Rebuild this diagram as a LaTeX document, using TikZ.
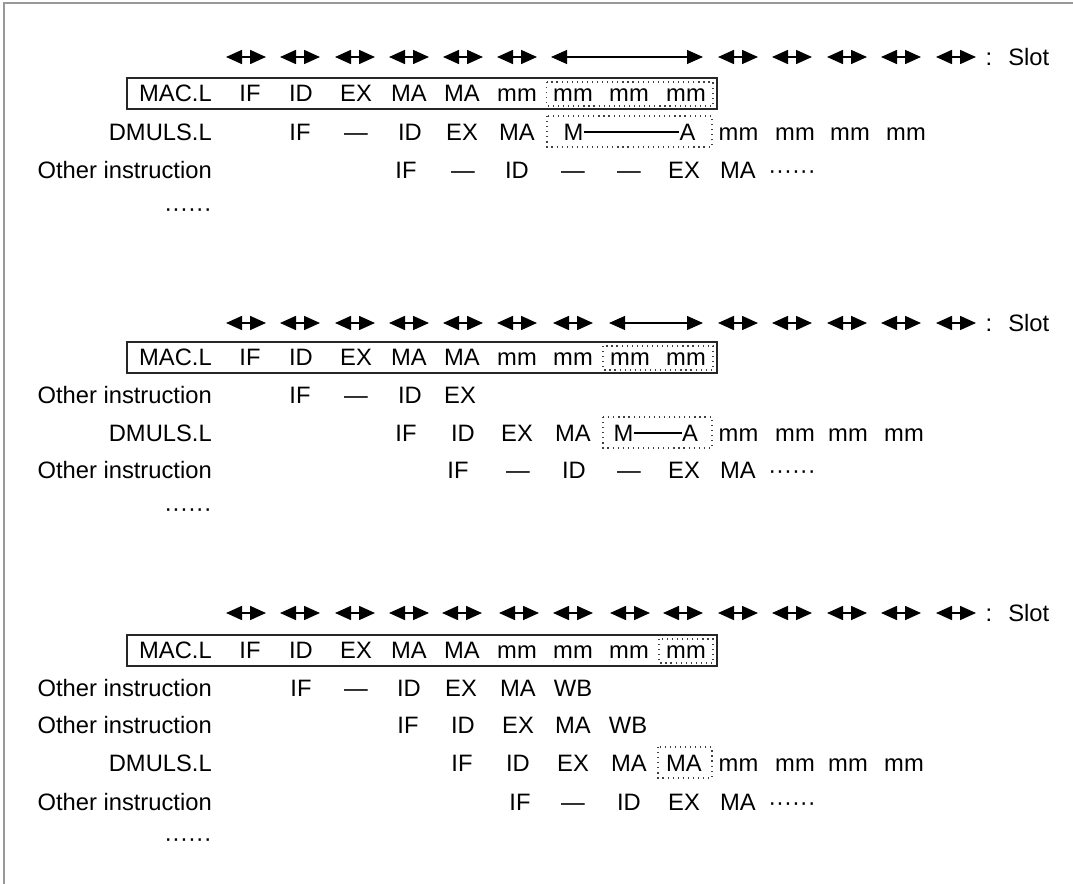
\documentclass[tikz,border=0pt]{standalone}
\usepackage{fontspec}
\setmainfont{Liberation Sans}
\usetikzlibrary{arrows.meta}
\begin{document}
\begin{tikzpicture}[x=0.75pt,y=-0.75pt,
  every node/.style={font=\fontsize{17.8}{20}\selectfont, inner sep=0pt, text height=12.7pt, text depth=0pt},
  lbl/.style={anchor=east},
  slotarrow/.style={line width=1.2pt, {Triangle[length=12pt,width=10.5pt]}-{Triangle[length=12pt,width=10.5pt]}},
  longarrow/.style={line width=0.8pt, {Triangle[length=12pt,width=10.5pt]}-{Triangle[length=12pt,width=10.5pt]}},
  instbox/.style={draw=black!85, line width=1.1pt},
  dotbox/.style={draw=black!75, line width=0.9pt, dash pattern=on 0.9pt off 2.9pt},
  frame/.style={draw=black!40, line width=1pt}]
\useasboundingbox (0,0) rectangle (1073,884);
\draw[frame] (4,884) -- (4,3) -- (1073,3);

% ===================== section 1 =====================
\foreach \x in {246,300,355,409,463,517,738,792,847,901,956}
  \draw[slotarrow] (\x-20,57) -- (\x+20,57);
\draw[longarrow] (551,57) -- (703,57);
\node (s1c) at (989,57) {:};
\node[anchor=west] (s1s) at (1008,57) {Slot};

\draw[instbox] (127,78) rectangle (717,109);
\draw[dotbox] (546.5,82) rectangle (713,106);
\node[lbl] (a1) at (212,93) {MAC.L};
\foreach \x/\t [count=\i] in {250/IF,301/ID,356/EX,409/MA,462/MA,517/mm,573/mm,629/mm,686/mm}
  \node (a1c\i) at (\x,93) {\t};

\node[lbl] (a2) at (212,132) {DMULS.L};
\foreach \x/\t [count=\i] in {300/IF,356/—,410/ID,462/EX,517/MA,738.5/mm,795/mm,850/mm,906/mm}
  \node (a2c\i) at (\x,132) {\t};
\draw[dotbox] (547,116) rectangle (712,147);
\node (a2m) at (573.5,132) {M};
\node (a2a) at (687.5,132) {A};
\draw[line width=1pt] (a2m.east) -- (a2a.west);

\node[lbl] (a3) at (212,170) {Other instruction};
\foreach \x/\t [count=\i] in {406/IF,463/—,517/ID,573/—,629/—,684/EX,738/MA,792/······}
  \node (a3c\i) at (\x,170) {\t};
\node[lbl] (a4) at (212,208) {······};

% ===================== section 2 =====================
\foreach \x in {246,300,355,409,463,517,573,738,792,847,901,956}
  \draw[slotarrow] (\x-20,323) -- (\x+20,323);
\draw[longarrow] (609,323) -- (703,323);
\node (s2c) at (989,323) {:};
\node[anchor=west] (s2s) at (1008,323) {Slot};

\draw[instbox] (127,342) rectangle (717,373);
\draw[dotbox] (603,346) rectangle (713,370);
\node[lbl] (b1) at (212,357) {MAC.L};
\foreach \x/\t [count=\i] in {250/IF,301/ID,356/EX,409/MA,462/MA,517/mm,573/mm,630/mm,686/mm}
  \node (b1c\i) at (\x,357) {\t};

\node[lbl] (b2) at (212,395) {Other instruction};
\foreach \x/\t [count=\i] in {300/IF,356/—,410/ID,460/EX}
  \node (b2c\i) at (\x,395) {\t};

\node[lbl] (b3) at (212,433) {DMULS.L};
\foreach \x/\t [count=\i] in {406/IF,463/ID,517/EX,573/MA,738.5/mm,795/mm,848/mm,904/mm}
  \node (b3c\i) at (\x,433) {\t};
\draw[dotbox] (603,417) rectangle (712,448);
\node (b3m) at (623.5,433) {M};
\node (b3a) at (690,433) {A};
\draw[line width=1pt] (b3m.east) -- (b3a.west);

\node[lbl] (b4) at (212,470) {Other instruction};
\foreach \x/\t [count=\i] in {458/IF,518/—,574/ID,629/—,684/EX,738/MA,792/······}
  \node (b4c\i) at (\x,470) {\t};
\node[lbl] (b5) at (212,508) {······};

% ===================== section 3 =====================
\foreach \x in {246,300,355,409,462,519,573,630,683,738,792,847,901,956}
  \draw[slotarrow] (\x-20,613) -- (\x+20,613);
\node (s3c) at (989,613) {:};
\node[anchor=west] (s3s) at (1008,613) {Slot};

\draw[instbox] (127,635) rectangle (717,666);
\draw[dotbox] (659,639) rectangle (713,663);
\node[lbl] (c1) at (212,650) {MAC.L};
\foreach \x/\t [count=\i] in {250/IF,301/ID,356/EX,409/MA,462/MA,517/mm,573/mm,629/mm,686/mm}
  \node (c1c\i) at (\x,650) {\t};

\node[lbl] (c2) at (212,688) {Other instruction};
\foreach \x/\t [count=\i] in {301/IF,356/—,409/ID,461/EX,518/MA,573/WB}
  \node (c2c\i) at (\x,688) {\t};

\node[lbl] (c3) at (212,725) {Other instruction};
\foreach \x/\t [count=\i] in {408/IF,463/ID,518/EX,573/MA,628/WB}
  \node (c3c\i) at (\x,725) {\t};

\node[lbl] (c4) at (212,763) {DMULS.L};
\foreach \x/\t [count=\i] in {462/IF,518/ID,573/EX,629/MA,684/MA,738.5/mm,795/mm,848/mm,904/mm}
  \node (c4c\i) at (\x,763) {\t};
\draw[dotbox] (658,747) rectangle (712,778);

\node[lbl] (c5) at (212,802) {Other instruction};
\foreach \x/\t [count=\i] in {520/IF,573/—,629/ID,684/EX,738/MA,792/······}
  \node (c5c\i) at (\x,802) {\t};
\node[lbl] (c6) at (212,838) {······};
\end{tikzpicture}
\end{document}
